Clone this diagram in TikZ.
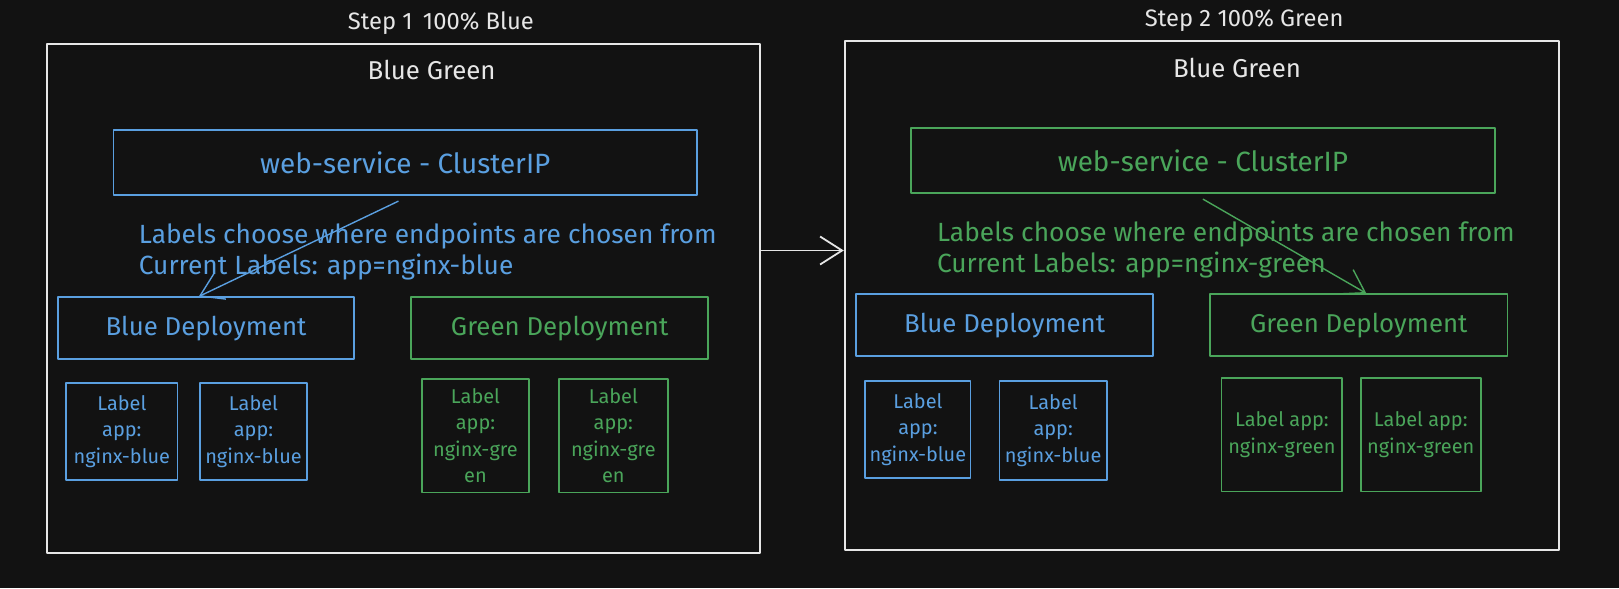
\documentclass[tikz,border=0pt]{standalone}
\usepackage{fontspec}
\setmainfont{Fira Sans}
\usetikzlibrary{arrows.meta}
\definecolor{bg}{HTML}{121212}
\definecolor{kblue}{HTML}{5A9FE0}
\definecolor{kgreen}{HTML}{4AA55A}
\definecolor{kwhite}{HTML}{E6E6E6}
\begin{document}
\begin{tikzpicture}[x=1pt,y=-1pt,scale=1.0325,every node/.append style={transform shape},line join=round,line cap=round,>={Straight Barb[length=22pt,width=28pt]}]
	\tikzset{box/.style={draw,line width=1.8pt,inner sep=0pt,align=center},
		frame/.style={box,kwhite,line width=2pt},
		bluebox/.style={box,kblue,text=kblue},
		greenbox/.style={box,kgreen,text=kgreen},
		big/.style={font=\fontsize{25}{30}\selectfont},
		svc/.style={font=\fontsize{27}{30}\selectfont},
		note/.style={font=\fontsize{25.5}{30}\selectfont},
		small/.style={font=\fontsize{19.3}{25.5}\selectfont}}
	\fill[bg] (0,0) rectangle (1568,569.5);
	% step 1
	\node[frame,minimum width=690,minimum height=493] (lout) at (391,289.5) {};
	\node[text=kwhite,font=\fontsize{23}{26}\selectfont] (lstep) at (427,22) {Step 1\, 100\% Blue};
	\node[text=kwhite,big] (ltitle) at (418,68) {Blue Green};
	\node[bluebox,svc,minimum width=565,minimum height=63] (lsvc) at (392.5,157.5) {web-service - ClusterIP};
	\node[text=kblue,note,anchor=west,align=left] (llab) at (131,244) {Labels choose where endpoints are chosen from\\Current Labels: app=nginx-blue};
	\node[bluebox,big,minimum width=287,minimum height=60] (lblue) at (199.5,318) {Blue Deployment};
	\node[greenbox,big,minimum width=288,minimum height=60] (lgreen) at (542,318) {Green Deployment};
	\node[bluebox,small,minimum width=108,minimum height=94] (lpa) at (118,418) {Label\\app:\\nginx-blue};
	\node[bluebox,small,minimum width=103,minimum height=94] (lpb) at (245.5,418) {Label\\app:\\nginx-blue};
	\node[greenbox,small,minimum width=103,minimum height=110] (lpc) at (460.5,422) {Label\\app:\\nginx-gre\\en};
	\node[greenbox,small,minimum width=106,minimum height=110] (lpd) at (594,422) {Label\\app:\\nginx-gre\\en};
	\draw[->,kblue,line width=1.4pt] ([xshift=-7pt,yshift=-5pt]lsvc.south) -- ([xshift=-7pt]lblue.north);
	% step 2
	\node[frame,minimum width=692,minimum height=493] (rout) at (1164,286.5) {};
	\node[text=kwhite,font=\fontsize{23}{26}\selectfont] (rstep) at (1205,20) {Step 2 100\% Green};
	\node[text=kwhite,big] (rtitle) at (1198,66) {Blue Green};
	\node[greenbox,svc,minimum width=566,minimum height=63] (rsvc) at (1165,155.5) {web-service - ClusterIP};
	\node[text=kgreen,note,anchor=west,align=left] (rlab) at (904,242) {Labels choose where endpoints are chosen from\\Current Labels: app=nginx-green};
	\node[bluebox,big,minimum width=288,minimum height=60] (rblue) at (973,315) {Blue Deployment};
	\node[greenbox,big,minimum width=288,minimum height=60] (rgreen) at (1316,315) {Green Deployment};
	\node[bluebox,small,minimum width=102,minimum height=94] (rpa) at (889,416) {Label\\app:\\nginx-blue};
	\node[bluebox,small,minimum width=104,minimum height=96] (rpb) at (1020,417) {Label\\app:\\nginx-blue};
	\node[greenbox,small,minimum width=117,minimum height=110] (rpc) at (1241.5,421) {Label app:\\nginx-green};
	\node[greenbox,small,minimum width=116,minimum height=110] (rpd) at (1376,421) {Label app:\\nginx-green};
	\draw[->,kgreen,line width=1.4pt] ([yshift=-5pt]rsvc.south) -- ([xshift=7pt]rgreen.north);
	% between steps
	\coordinate (mid) at ([yshift=47pt]lout.east);
	\draw[->,kwhite,line width=1.8pt] (mid) -- (mid -| rout.west);
\end{tikzpicture}
\end{document}
